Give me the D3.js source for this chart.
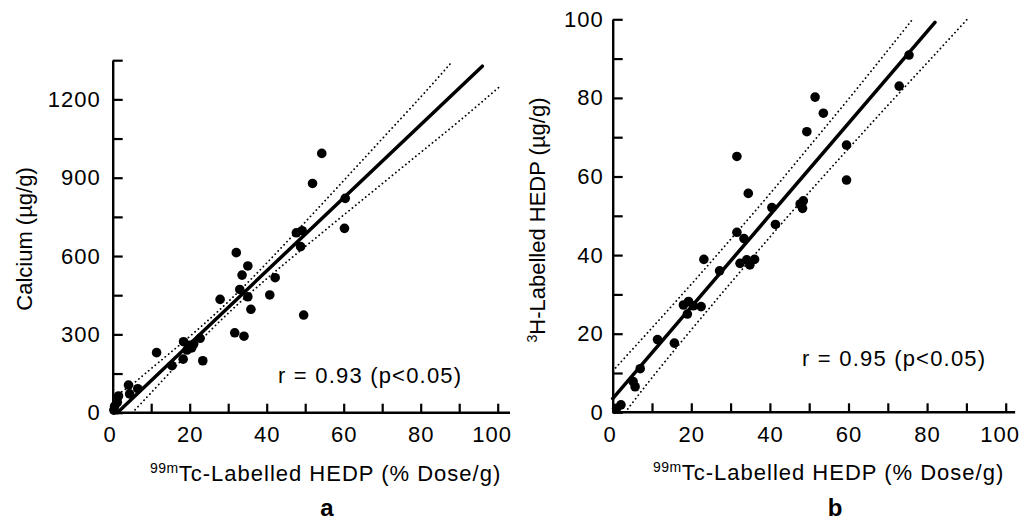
<!DOCTYPE html>
<html>
<head>
<meta charset="utf-8">
<script src="https://cdn.jsdelivr.net/npm/d3@7"></script>
<style>
  html, body { margin: 0; padding: 0; background: #fff; }
  svg { display: block; }
  text { font-family: "Liberation Sans", Arial, Helvetica, sans-serif; fill: #000; }
</style>
</head>
<body>
<svg id="chart" width="1024" height="523"></svg>
<script>
// ---------- Panel a : Calcium vs 99mTc-HEDP ----------
const caDose    = [0.3, 0.5, 1.2, 1.5, 4.1, 4.4, 6.5, 11.4, 15.4, 18.3, 18.4, 19.3, 19.8, 20.5, 21.0, 22.7, 23.4, 27.9, 31.7, 32.1, 33.0, 33.6, 34.1, 35.1, 35.1, 35.9, 40.8, 42.2, 47.7, 49.2, 48.8, 49.6, 51.9, 54.3, 60.4, 60.2];
const caCalcium = [10, 25, 40, 64, 106, 72, 92, 230, 180, 205, 272, 240, 258, 248, 262, 285, 199, 434, 306, 613, 472, 527, 293, 562, 444, 396, 451, 517, 689, 697, 636, 374, 878, 993, 821, 706];
const caFitX    = [1.2, 96];
const caFitY    = [0, 1327];
const caUpperX  = [0.5, 5, 10, 20, 30, 40, 50, 60, 70, 80, 87.6];
const caUpperY  = [62, 108, 169, 292, 425, 573, 730, 889, 1049, 1209, 1335];
const caLowerX  = [5.1, 10, 20, 30, 40, 50, 60, 70, 80, 90, 101];
const caLowerY  = [0, 77, 234, 381, 513, 636, 757, 877, 997, 1117, 1255];
const caXTicks  = [0, 10, 20, 30, 40, 50, 60, 70, 80, 90, 100];
const caXLabels = [0, 20, 40, 60, 80, 100];
const caYTicks  = [0, 150, 300, 450, 600, 750, 900, 1050, 1200, 1350];
const caYLabels = [0, 300, 600, 900, 1200];
const caR       = "r = 0.93 (p<0.05)";

// ---------- Panel b : 3H-HEDP vs 99mTc-HEDP ----------
const h3Dose    = [75.4, 72.9, 51.5, 53.6, 49.4, 31.6, 59.5, 59.5, 34.5, 48.5, 47.7, 48.3, 40.5, 41.4, 31.6, 33.4, 23.2, 32.4, 34.1, 34.9, 36.1, 27.2, 18.0, 19.3, 19.0, 20.5, 22.5, 11.4, 15.7, 7.0, 5.2, 5.7, 2.1, 1.0];
const h3Hedp    = [90.9, 83.0, 80.2, 76.1, 71.4, 65.1, 68.0, 59.1, 55.7, 53.8, 53.0, 51.9, 52.1, 47.8, 45.8, 44.2, 38.9, 37.9, 38.8, 37.5, 38.9, 36.0, 27.3, 28.2, 25.0, 27.1, 26.9, 18.5, 17.6, 11.1, 7.8, 6.5, 1.9, 1.0];
const h3FitX    = [0, 82];
const h3FitY    = [3.5, 99.2];
const h3UpperX  = [0, 10, 20, 30, 40, 50, 60, 70, 76.3];
const h3UpperY  = [10.5, 21.5, 32.6, 44.0, 55.6, 67.6, 79.7, 92.1, 100];
const h3LowerX  = [3.2, 10, 20, 30, 40, 50, 60, 70, 80, 90.2];
const h3LowerY  = [0, 8.8, 21.0, 32.9, 44.6, 56.0, 67.1, 78.1, 88.9, 100];
const h3XTicks  = [0, 10, 20, 30, 40, 50, 60, 70, 80, 90, 100];
const h3XLabels = [0, 20, 40, 60, 80, 100];
const h3YTicks  = [0, 10, 20, 30, 40, 50, 60, 70, 80, 90, 100];
const h3YLabels = [0, 20, 40, 60, 80, 100];
const h3R       = "r = 0.95 (p<0.05)";

const svg = d3.select("#chart");

function zip(xs, ys) { return xs.map((x, i) => [x, ys[i]]); }

function drawPanel(cfg) {
  const g = svg.append("g");
  const x = d3.scaleLinear().domain([0, 100]).range(cfg.xRange);
  const y = d3.scaleLinear().domain(cfg.yDomain).range(cfg.yRange);

  // y axis (ticks pointing inward)
  const yAxis = d3.axisLeft(y)
    .tickValues(cfg.yTicks)
    .tickSize(-10)
    .tickSizeOuter(0)
    .tickPadding(cfg.yPad)
    .tickFormat(d => cfg.yLabels.includes(d) ? String(d) : "");
  const ya = g.append("g").attr("transform", `translate(${cfg.xRange[0]},0)`).call(yAxis);
  ya.select(".domain").attr("stroke", "#000").attr("stroke-width", 2.4);
  ya.selectAll(".tick line").attr("stroke", "#000").attr("stroke-width", 2.2);
  ya.selectAll(".tick text")
    .attr("font-family", "Liberation Sans, Arial, sans-serif")
    .attr("font-size", 22).attr("letter-spacing", 1).attr("fill", "#000");

  // x axis (ticks pointing inward)
  const xAxis = d3.axisBottom(x)
    .tickValues(cfg.xTicks)
    .tickSize(-9)
    .tickSizeOuter(0)
    .tickPadding(14)
    .tickFormat(d => cfg.xLabels.includes(d) ? String(d) : "");
  const xa = g.append("g").attr("transform", `translate(0,${cfg.yRange[0]})`).call(xAxis);
  xa.select(".domain").remove();
  xa.append("line")
    .attr("x1", x(0)).attr("x2", x(cfg.xAxisEnd))
    .attr("y1", 0).attr("y2", 0)
    .attr("stroke", "#000").attr("stroke-width", 2.4);
  xa.selectAll(".tick line").attr("stroke", "#000").attr("stroke-width", 2.2);
  xa.selectAll(".tick text")
    .attr("font-family", "Liberation Sans, Arial, sans-serif")
    .attr("font-size", 22).attr("letter-spacing", 1).attr("fill", "#000")
    .attr("dx", d => d === 0 ? -3 : (d === 100 ? -6 : 0));

  const line = d3.line().x(d => x(d[0])).y(d => y(d[1]));
  const curve = d3.line().x(d => x(d[0])).y(d => y(d[1])).curve(d3.curveNatural);

  // confidence bands (dotted)
  [zip(cfg.upX, cfg.upY), zip(cfg.loX, cfg.loY)].forEach(pts => {
    g.append("path").datum(pts).attr("d", curve)
      .attr("fill", "none").attr("stroke", "#000")
      .attr("stroke-width", 1.8).attr("stroke-linecap", "round")
      .attr("stroke-dasharray", "0.1 4.2");
  });

  // regression line
  g.append("path").datum(zip(cfg.fitX, cfg.fitY)).attr("d", line)
    .attr("fill", "none").attr("stroke", "#000").attr("stroke-width", 3.5)
    .attr("stroke-linecap", "round");

  // points
  g.selectAll("circle.pt").data(zip(cfg.px, cfg.py)).join("circle")
    .attr("class", "pt")
    .attr("cx", d => x(d[0])).attr("cy", d => y(d[1]))
    .attr("r", 4.8).attr("fill", "#000");

  // r annotation
  g.append("text").attr("x", cfg.rPos[0]).attr("y", cfg.rPos[1])
    .attr("font-size", 22).attr("letter-spacing", 1.2).text(cfg.rText);

  // x title with superscript
  const xt = g.append("text").attr("x", cfg.xTitlePos[0]).attr("y", cfg.xTitlePos[1])
    .attr("font-size", 22).attr("letter-spacing", 1);
  xt.append("tspan").attr("font-size", 14).attr("dy", -8).attr("letter-spacing", 0.5).text("99m");
  xt.append("tspan").attr("dy", 8).text("Tc-Labelled HEDP (% Dose/g)");

  // y title (rotated)
  const yt = g.append("text")
    .attr("transform", `translate(${cfg.yTitlePos[0]},${cfg.yTitlePos[1]}) rotate(-90)`)
    .attr("text-anchor", "middle").attr("font-size", 22);
  if (cfg.yTitleSup) {
    yt.append("tspan").attr("font-size", 14).attr("dy", -8).text(cfg.yTitleSup);
    yt.append("tspan").attr("dy", 8).text(cfg.yTitle);
  } else {
    yt.text(cfg.yTitle);
  }

  // panel letter
  g.append("text").attr("x", cfg.letterPos[0]).attr("y", cfg.letterPos[1])
    .attr("text-anchor", "middle")
    .attr("font-family", "Liberation Serif, Times New Roman, serif")
    .attr("font-weight", "bold").attr("font-size", 24)
    .text(cfg.letter);
}

drawPanel({
  xRange: [112.7, 497.7], yDomain: [0, 1350], yRange: [412.7, 60.2],
  xTicks: caXTicks, xLabels: caXLabels, yTicks: caYTicks, yLabels: caYLabels,
  yPad: 12, xAxisEnd: 103.2,
  px: caDose, py: caCalcium,
  fitX: caFitX, fitY: caFitY,
  upX: caUpperX, upY: caUpperY, loX: caLowerX, loY: caLowerY,
  rText: caR, rPos: [278, 383],
  xTitlePos: [150, 481], yTitlePos: [32, 239], yTitle: "Calcium (\u00b5g/g)",
  letter: "a", letterPos: [327, 516]
});

drawPanel({
  xRange: [612.7, 1005.7], yDomain: [0, 100], yRange: [412.3, 19.3],
  xTicks: h3XTicks, xLabels: h3XLabels, yTicks: h3YTicks, yLabels: h3YLabels,
  yPad: 9, xAxisEnd: 102.4,
  px: h3Dose, py: h3Hedp,
  fitX: h3FitX, fitY: h3FitY,
  upX: h3UpperX, upY: h3UpperY, loX: h3LowerX, loY: h3LowerY,
  rText: h3R, rPos: [802, 366],
  xTitlePos: [653, 480], yTitlePos: [545, 220], yTitle: "H-Labelled HEDP (\u00b5g/g)", yTitleSup: "3",
  letter: "b", letterPos: [835, 516]
});
</script>
</body>
</html>
